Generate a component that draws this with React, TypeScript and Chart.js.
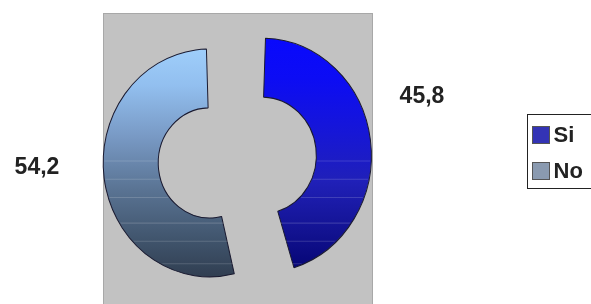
import React, { useEffect, useRef } from "react";
import { Chart, registerables } from "chart.js";

Chart.register(...registerables);

const categories = ["Si", "No"];
const values = [45.8, 54.2];
const valueLabels = ["45,8", "54,2"];

const gradientStops: string[][] = [
  ["#0808ff", "#0c0cf4", "#1616d8", "#2020b8", "#121290", "#00006a"],
  ["#a4d4ff", "#92bfef", "#7899c4", "#5a7494", "#40546c", "#2a3546"],
];
const stripeAt = [0.5, 0.56, 0.62, 0.7, 0.76, 0.83, 0.9];
const legendSwatch = ["#3333b5", "#8a9ab0"];
const stretchY = 1.07;
const shiftX = -8;
const shiftY = 1.5;

function makeGradient(chart: any, i: number) {
  const area = chart.chartArea;
  if (!area) return gradientStops[i][0];
  const g = chart.ctx.createLinearGradient(0, area.top + 25, 0, area.bottom - 25);
  const stops = gradientStops[i];
  stops.forEach((c, k) => g.addColorStop(k / (stops.length - 1), c));
  return g;
}

const bgPlugin = {
  id: "plotBg",
  beforeDraw(chart: any) {
    const { ctx, chartArea } = chart;
    ctx.save();
    ctx.fillStyle = "#ffffff";
    ctx.fillRect(0, 0, chart.width, chart.height);
    ctx.fillStyle = "#c2c2c2";
    ctx.fillRect(chartArea.left, chartArea.top, chartArea.right - chartArea.left, chartArea.bottom - chartArea.top);
    ctx.strokeStyle = "#a8a8a8";
    ctx.lineWidth = 1;
    ctx.strokeRect(chartArea.left + 0.5, chartArea.top + 0.5, chartArea.right - chartArea.left - 1, chartArea.bottom - chartArea.top + 5);
    ctx.restore();
  },
};

const stretchPlugin = {
  id: "stretch",
  beforeDatasetsDraw(chart: any) {
    const { ctx, chartArea } = chart;
    const cy = (chartArea.top + chartArea.bottom) / 2;
    ctx.save();
    ctx.translate(shiftX, cy + shiftY);
    ctx.scale(1, stretchY);
    ctx.translate(0, -cy);
  },
  afterDatasetsDraw(chart: any) {
    const { ctx, chartArea } = chart;
    const meta = chart.getDatasetMeta(0);
    const h = chartArea.bottom - chartArea.top;
    meta.data.forEach((arc: any) => {
      const p = arc.getProps(["x", "y", "startAngle", "endAngle", "innerRadius", "outerRadius"], true);
      const off = (arc.options.offset || 0) / 4;
      const mid = (p.startAngle + p.endAngle) / 2;
      const fix = 1 - Math.sin(Math.min(Math.PI, p.endAngle - p.startAngle));
      const x = p.x + Math.cos(mid) * off;
      const y = p.y + Math.sin(mid) * off;
      const ro = p.outerRadius + off * fix;
      const ri = p.innerRadius + off * fix;
      ctx.save();
      ctx.beginPath();
      ctx.arc(x, y, ro - 1, p.startAngle + 0.01, p.endAngle - 0.01);
      ctx.arc(x, y, ri + 1, p.endAngle - 0.02, p.startAngle + 0.02, true);
      ctx.closePath();
      ctx.clip();
      ctx.strokeStyle = "rgba(255,255,255,0.16)";
      ctx.lineWidth = 1;
      stripeAt.forEach((s) => {
        const yy = Math.round(chartArea.top + s * h) + 0.5;
        ctx.beginPath();
        ctx.moveTo(x - ro, yy);
        ctx.lineTo(x + ro, yy);
        ctx.stroke();
      });
      ctx.restore();
    });
    ctx.restore();
  },
};

const labelPlugin = {
  id: "valueLabels",
  afterDraw(chart: any) {
    const { ctx, chartArea } = chart;
    ctx.save();
    ctx.font = "bold 23px 'Liberation Sans', Arial, sans-serif";
    ctx.fillStyle = "#222222";
    ctx.textAlign = "center";
    ctx.textBaseline = "middle";
    valueLabels.forEach((t, i) => {
      const x = i === 0 ? chartArea.right + 49 : chartArea.left - 66;
      const y = i === 0 ? chartArea.top + 84 : chartArea.top + 155;
      ctx.fillText(t, x, y);
    });
    ctx.restore();
  },
};

const legendPlugin = {
  id: "boxLegend",
  afterDraw(chart: any) {
    const { ctx } = chart;
    const bx = 527.5, by = 114.5, bw = 70, bh = 74;
    ctx.save();
    ctx.fillStyle = "#ffffff";
    ctx.fillRect(bx, by, bw, bh);
    ctx.strokeStyle = "#222222";
    ctx.lineWidth = 1;
    ctx.strokeRect(bx, by, bw, bh);
    ctx.font = "bold 22px 'Liberation Sans', Arial, sans-serif";
    ctx.textBaseline = "middle";
    ctx.textAlign = "left";
    categories.forEach((c, i) => {
      const cy = by + 20 + i * 36;
      ctx.fillStyle = legendSwatch[i];
      ctx.fillRect(bx + 5, cy - 8, 17, 17);
      ctx.strokeStyle = "#555555";
      ctx.strokeRect(bx + 5, cy - 8, 17, 17);
      ctx.fillStyle = "#222222";
      ctx.fillText(c, bx + 26, cy + 1);
    });
    ctx.restore();
  },
};

export default function App() {
  const ref = useRef<HTMLCanvasElement>(null);
  useEffect(() => {
    document.body.style.margin = "0";
    const chart = new Chart(ref.current!, {
      type: "doughnut",
      data: {
        labels: categories,
        datasets: [
          {
            data: values,
            backgroundColor: (ctx: any) => makeGradient(ctx.chart, ctx.dataIndex),
            borderColor: "#1a1a30",
            borderWidth: 1,
            offset: [128, 82],
          },
        ],
      },
      options: {
        animation: false,
        responsive: false,
        cutout: "36%",
        radius: 86,
        layout: { padding: { left: 103, right: 218, top: 13, bottom: 0 } },
        plugins: { legend: { display: false }, tooltip: { enabled: false } },
      },
      plugins: [bgPlugin, stretchPlugin, labelPlugin, legendPlugin],
    });
    return () => chart.destroy();
  }, []);
  return (
    <div style={{ width: 591, height: 304 }}>
      <canvas ref={ref} width={591} height={304} style={{ display: "block" }} />
    </div>
  );
}
